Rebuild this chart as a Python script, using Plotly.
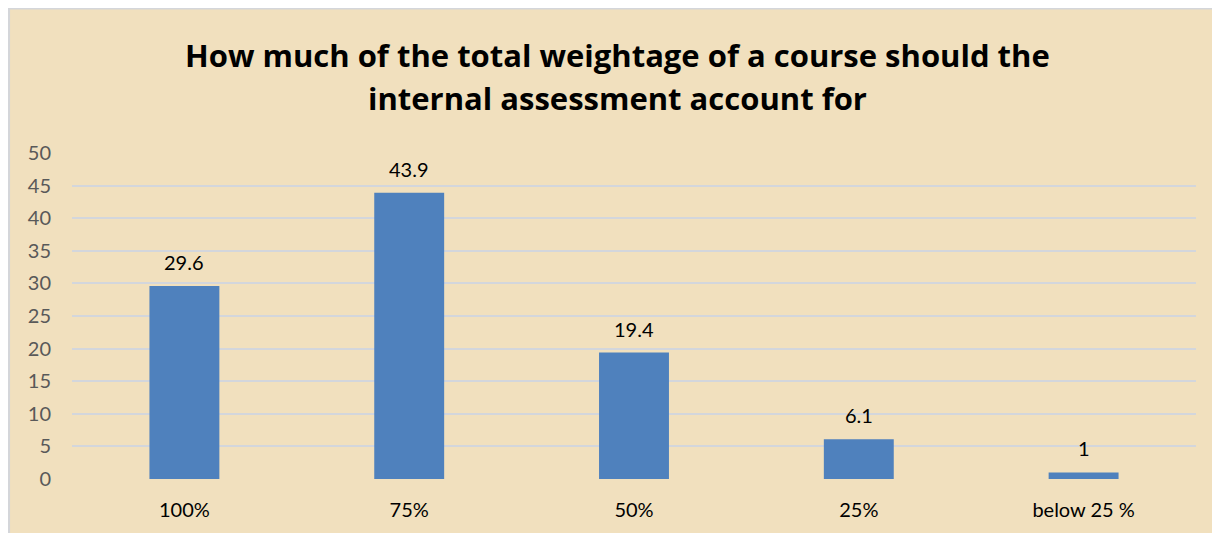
import plotly.graph_objects as go

categories = ["100%", "75%", "50%", "25%", "below 25 %"]
values = [29.6, 43.9, 19.4, 6.1, 1]
y_ticks = [0, 5, 10, 15, 20, 25, 30, 35, 40, 45, 50]
title_lines = ["How much of the total weightage of a course should the",
               "internal assessment account for"]

# the page body adds an 8px margin; figure coordinates below are relative to the figure
W, H = 1212, 525
ml, mr, mt, mb = 63.5, 23.5, 145, 54
pw, ph = W - ml - mr, H - mt - mb

def px_x(p):
    return (p - ml) / pw

def px_y(p):
    return (H - mb - p) / ph

fig = go.Figure()
fig.add_trace(go.Bar(
    x=categories, y=values,
    marker=dict(color="#4F81BD", line=dict(width=0)),
    width=0.311,
    hoverinfo="x+y",
))

annotations = []
for c, v in zip(categories, values):
    annotations.append(dict(
        x=c, y=v, xref="x", yref="y", text=f"{v:g}", showarrow=False,
        yshift=24, yanchor="middle",
        font=dict(family="Lato", size=20, color="#000000"),
    ))
for line, ypix in zip(title_lines, [47, 90]):
    annotations.append(dict(
        x=px_x(609), y=px_y(ypix), xref="paper", yref="paper", text=f"<b>{line}</b>",
        showarrow=False, xanchor="center", yanchor="middle",
        font=dict(family="Open Sans", size=31, color="#000000"),
    ))

shapes = [
    dict(type="line", xref="paper", yref="paper", x0=px_x(0), x1=px_x(W),
         y0=px_y(0.5), y1=px_y(0.5), line=dict(color="#D4D6DA", width=2), layer="below"),
    dict(type="line", xref="paper", yref="paper", x0=px_x(0), x1=px_x(0),
         y0=px_y(0), y1=px_y(H), line=dict(color="#D4D6DA", width=3), layer="below"),
]

fig.update_layout(
    width=W, height=H,
    margin=dict(l=ml, r=mr, t=mt, b=mb, pad=0),
    paper_bgcolor="#F1E0BE",
    plot_bgcolor="rgba(0,0,0,0)",
    showlegend=False,
    annotations=annotations,
    shapes=shapes,
    bargap=0.689,
    xaxis=dict(
        showgrid=False, showline=False, zeroline=False,
        tickfont=dict(family="Lato", size=20, color="#000000"),
        ticks="", ticklabelstandoff=17,
    ),
    yaxis=dict(
        range=[0, 50], tickvals=y_ticks, showgrid=True,
        gridcolor="#D3D6DC", gridwidth=2, zeroline=False, showline=False,
        tickfont=dict(family="Lato", size=20, color="#595959"),
        ticks="", ticklabelstandoff=20,
    ),
)

fig.write_html("out.html")
